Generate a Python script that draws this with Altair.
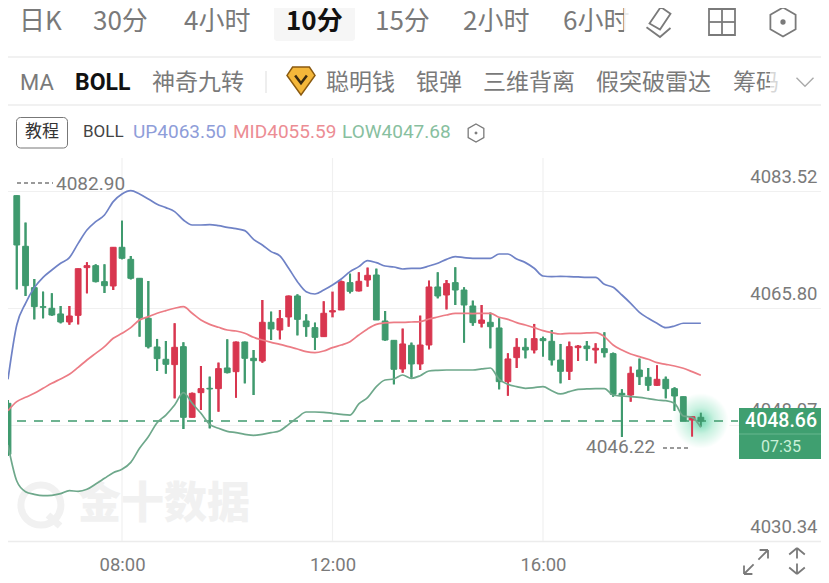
import altair as alt
import pandas as pd

opens = [4051.33,4082.89,4075.19,4068.91,4066.02,4065.77,4064.91,4063.69,4064.70,4071.95,
         4072.25,4069.82,4069.16,4075.04,4073.21,4070.33,4064.25,4059.89,4058.02,4057.21,
         4059.94,4049.20,4052.95,4053.61,4053.56,4056.70,4056.14,4060.65,4058.17,4057.76,
         4063.64,4062.47,4064.45,4067.64,4063.84,4062.83,4061.46,4065.21,4065.51,4069.67,
         4068.40,4070.07,4070.83,4063.84,4060.90,4056.55,4060.14,4057.31,4060.19,4069.01,
         4067.79,4069.67,4068.55,4066.12,4063.49,4063.64,4062.78,4054.62,4058.27,4059.84,
         4059.43,4061.16,4060.75,4057.91,4056.19,4059.79,4060.04,4059.43,4059.64,4058.88,
         4052.85,4052.59,4056.39,4055.28,4054.06,4054.98,4053.56,4052.34,4048.79,4049.20]
closes = [4043.58,4075.39,4069.21,4066.02,4065.92,4064.75,4063.69,4064.60,4071.79,4072.25,
          4069.82,4069.21,4075.04,4073.37,4070.33,4064.35,4059.94,4058.12,4057.26,4059.84,
          4049.20,4052.85,4053.56,4053.51,4056.60,4055.99,4060.65,4058.17,4057.81,4063.64,
          4062.63,4064.20,4067.64,4064.09,4062.98,4061.36,4065.01,4065.41,4069.82,4068.35,
          4069.87,4070.78,4063.99,4060.95,4056.50,4060.35,4057.31,4060.19,4069.01,4067.64,
          4069.52,4068.55,4066.27,4063.59,4063.99,4062.98,4054.62,4058.07,4059.84,4059.43,
          4061.16,4060.85,4057.91,4056.19,4059.94,4060.04,4059.64,4059.69,4059.03,4052.70,
          4052.59,4055.89,4055.38,4054.06,4054.98,4053.56,4052.44,4048.64,4049.30,4048.66]
highs = [4051.83,4082.90,4078.79,4070.22,4068.30,4068.05,4066.12,4066.12,4071.79,4072.76,
         4072.45,4072.45,4075.04,4079.09,4073.72,4070.33,4069.92,4061.11,4060.80,4063.49,
         4060.60,4052.95,4057.00,4055.38,4057.51,4061.05,4060.70,4060.70,4059.43,4067.03,
         4065.26,4065.51,4067.69,4067.89,4064.85,4063.59,4066.83,4068.30,4069.97,4071.03,
         4071.24,4071.95,4071.79,4065.36,4060.90,4062.68,4060.55,4064.65,4069.97,4071.24,
         4070.07,4072.00,4068.96,4066.93,4066.27,4065.11,4064.25,4058.93,4061.21,4061.21,
         4063.39,4061.46,4062.47,4060.35,4060.70,4060.19,4060.80,4060.45,4062.12,4059.03,
         4053.46,4056.90,4058.12,4056.70,4057.10,4055.38,4053.76,4052.34,4049.40,4049.91]
lows = [4043.37,4068.65,4067.64,4064.09,4064.25,4064.65,4063.49,4063.28,4063.33,4068.05,
        4069.72,4068.10,4068.55,4073.21,4070.17,4061.46,4059.69,4056.24,4055.84,4052.09,
        4047.43,4049.20,4050.31,4047.53,4050.06,4055.89,4052.19,4054.37,4052.59,4057.51,
        4060.95,4061.05,4062.98,4061.66,4061.46,4059.43,4061.46,4064.40,4065.51,4068.05,
        4068.35,4069.06,4063.99,4060.85,4054.22,4055.99,4055.23,4056.39,4059.53,4067.29,
        4065.61,4066.27,4060.55,4063.13,4062.88,4059.69,4053.46,4052.49,4056.70,4058.17,
        4058.93,4058.42,4057.10,4054.37,4054.87,4057.76,4057.81,4057.41,4058.32,4052.34,
        4046.22,4051.58,4054.11,4053.25,4053.96,4052.09,4050.16,4048.64,4046.26,4047.78]
boll_up = [4054.98,4063.23,4066.53,4068.91,4070.48,4071.59,4072.61,4073.47,4075.64,4077.67,
           4078.94,4079.95,4081.98,4083.14,4083.65,4083.14,4082.38,4081.57,4081.07,4080.46,
           4079.19,4078.43,4078.43,4078.48,4078.33,4078.08,4077.87,4077.57,4076.25,4075.39,
           4074.38,4073.72,4071.85,4069.82,4068.30,4067.94,4068.55,4069.31,4070.22,4071.34,
           4072.10,4073.01,4072.71,4072.20,4072.05,4071.74,4071.85,4071.85,4072.20,4072.61,
           4073.21,4073.62,4073.47,4073.37,4073.37,4073.37,4074.02,4074.02,4073.26,4072.71,
           4071.85,4070.68,4070.58,4070.63,4070.58,4070.53,4070.48,4070.48,4069.41,4068.96,
           4067.79,4066.53,4065.16,4064.25,4063.49,4062.83,4063.08,4063.50,4063.50,4063.50]
boll_mid = [4050.21,4051.58,4052.24,4052.85,4053.61,4054.37,4055.03,4055.74,4056.80,4057.91,
            4058.93,4059.94,4061.21,4061.97,4062.83,4063.99,4064.50,4065.01,4065.41,4065.77,
            4066.02,4065.01,4063.99,4063.33,4062.88,4062.47,4062.32,4061.97,4061.36,4060.95,
            4060.60,4060.29,4059.94,4059.59,4059.18,4059.03,4059.28,4059.79,4060.19,4060.70,
            4061.71,4062.63,4063.33,4063.54,4063.64,4063.64,4063.69,4063.74,4064.14,4064.45,
            4064.75,4065.01,4065.01,4064.96,4065.01,4065.01,4064.40,4064.09,4063.59,4063.23,
            4062.83,4062.37,4062.07,4061.86,4061.97,4061.97,4062.02,4062.07,4061.46,4060.19,
            4059.43,4058.83,4058.42,4058.02,4057.51,4057.26,4057.00,4056.65,4056.14,4055.59]
boll_low = [4045.00,4039.52,4037.90,4037.50,4037.30,4037.35,4037.60,4038.06,4037.95,4038.26,
            4039.07,4039.93,4040.79,4041.30,4042.36,4044.49,4046.26,4048.39,4049.55,4051.07,
            4052.95,4051.33,4049.81,4048.14,4047.53,4047.07,4046.87,4046.62,4046.46,4046.62,
            4046.87,4047.17,4048.14,4049.15,4050.01,4050.01,4049.96,4049.81,4049.66,4049.55,
            4051.23,4052.19,4053.86,4054.87,4055.03,4055.63,4055.13,4055.53,4056.24,4056.34,
            4056.39,4056.39,4056.39,4056.39,4056.55,4056.70,4054.98,4054.22,4053.86,4053.61,
            4053.71,4053.86,4053.25,4052.75,4053.10,4053.46,4053.51,4053.56,4053.56,4052.59,
            4052.44,4052.34,4052.24,4052.04,4051.83,4051.73,4051.33,4049.40,4049.20,4047.68]

price_ticks = [4083.52, 4065.80, 4048.07, 4030.34]
time_bars = [13, 37, 61]
time_labels = ["08:00", "12:00", "16:00"]
last_price = 4048.66
countdown = "07:35"
period_tabs = ["日K", "30分", "4小时", "10分", "15分", "2小时", "6小时"]
indicator_tabs = ["MA", "BOLL", "神奇九转", "聪明钱", "银弹", "三维背离", "假突破雷达", "筹码"]

GREEN, RED = "#3f9a6e", "#d8364f"
UP_C, MID_C, LOW_C = "#6f82c6", "#ec7c85", "#6ea88b"
GREY = "#7a7a7a"
CJK = "Noto Sans CJK SC"
NUM = "Roboto"

n = len(opens)
df = pd.DataFrame({"bar": list(range(n)), "open": opens, "close": closes, "high": highs, "low": lows,
                   "dir": ["up" if c >= o else "down" for o, c in zip(opens, closes)]})
bands = pd.DataFrame({"bar": list(range(n)), "up": boll_up, "mid": boll_mid, "low": boll_low})

PLOT_W, PLOT_H = 821, 575
x_scale = alt.Scale(domain=[-0.912, 92.70], nice=False, zero=False, padding=0)
y_scale = alt.Scale(domain=[4025.24, 4112.62], nice=False, zero=False)
dir_color = alt.Color("dir:N", scale=alt.Scale(domain=["up", "down"], range=[RED, GREEN]), legend=None)
dir_stroke = alt.Stroke("dir:N", scale=alt.Scale(domain=["up", "down"], range=[RED, GREEN]), legend=None)

label_expr = " : ".join(f"datum.value == {b} ? '{t}'" for b, t in zip(time_bars, time_labels)) + " : ''"

X = alt.X("bar:Q", scale=x_scale, title=None,
          axis=alt.Axis(values=time_bars, labelExpr=label_expr, grid=False, ticks=False,
                        domain=True, domainColor="#ececec", domainWidth=1.5, offset=-34,
                        labelPadding=14, labelFontSize=18.5, labelColor=GREY, labelFont=NUM))
Y = alt.Y("low:Q", scale=y_scale, title=None,
          axis=alt.Axis(orient="right", values=price_ticks, format=".2f", grid=True, gridColor="#f0f0f0",
                        gridWidth=1.2, ticks=False, domain=False, labelAlign="right", labelPadding=-4,
                        labelOffset=-15, labelFontSize=18.5, labelColor=GREY, labelFont=NUM))

wicks = alt.Chart(df).mark_rule(strokeWidth=2).encode(x=X, y=Y, y2="high:Q", color=dir_color)
wicks_top = alt.Chart(df).mark_rule(strokeWidth=2).encode(
    x=alt.X("bar:Q", scale=x_scale), y=alt.Y("low:Q", scale=y_scale), y2="high:Q", color=dir_color)
bodies = alt.Chart(df).mark_bar(size=5.8, strokeWidth=1).encode(
    x=alt.X("bar:Q", scale=x_scale),
    y=alt.Y("open:Q", scale=y_scale), y2="close:Q", color=dir_color, stroke=dir_stroke)


def band(field, color):
    return alt.Chart(bands).mark_line(color=color, strokeWidth=1.7, interpolate="monotone").encode(
        x=alt.X("bar:Q", scale=x_scale), y=alt.Y(f"{field}:Q", scale=y_scale))


def label(text, x, y, size, color=GREY, weight=400, align="left", font=CJK, opacity=1.0):
    return alt.Chart(alt.Data(values=[{"t": text}])).mark_text(
        fontSize=size, color=color, fontWeight=weight, align=align, baseline="middle",
        font=font, opacity=opacity).encode(text="t:N", x=alt.value(x), y=alt.value(y))


def box(x, x2, y, y2, fill, stroke=None, radius=0, opacity=1.0, width=1):
    kw = {"stroke": stroke, "strokeWidth": width} if stroke else {}
    return alt.Chart(alt.Data(values=[{"a": 1}])).mark_rect(
        fill=fill, cornerRadius=radius, opacity=opacity, **kw).encode(
        x=alt.value(x), x2=alt.value(x2), y=alt.value(y), y2=alt.value(y2))


def hline(x, x2, y, color, dash=None, width=1):
    kw = {"strokeDash": dash} if dash else {}
    return alt.Chart(alt.Data(values=[{"a": 1}])).mark_rule(color=color, strokeWidth=width, **kw).encode(
        x=alt.value(x), x2=alt.value(x2), y=alt.value(y))


def icon(path, x, y, span, stroke=GREY, width=1.8, fill=None):
    kw = {"fill": fill, "fillOpacity": 1} if fill else {"fillOpacity": 0}
    return alt.Chart(alt.Data(values=[{"a": 1}])).mark_point(
        shape=path, size=span * span, stroke=stroke, strokeWidth=width, opacity=1, **kw).encode(
        x=alt.value(x), y=alt.value(y))


HEX = "M0,-1L0.87,-0.5L0.87,0.5L0,1L-0.87,0.5L-0.87,-0.5Z"
DOT = "M-0.12,0a0.12,0.12 0 1,0 0.24,0a0.12,0.12 0 1,0 -0.24,0Z"

time_rules = alt.Chart(pd.DataFrame({"bar": time_bars})).mark_rule(color="#f0f0f0", strokeWidth=1.2).encode(
    x=alt.X("bar:Q", scale=x_scale), y=alt.value(158), y2=alt.value(541))

watermark = [
    icon("M0,-1A1,1 0 1,1 -0.01,-1ZM0.35,0.5L0.95,1.05", 41, 505, 40, stroke="#f1f1f1", width=7),
    label("金十数据", 78, 505, 43, color="#f1f1f1", weight=900),
]

glow = alt.Chart(pd.DataFrame({"bar": [79], "p": [last_price]})).mark_point(
    filled=True, size=3400, opacity=1,
    fill=alt.Gradient(gradient="radial", stops=[
        alt.GradientStop(color="#6fd8b0", offset=0.0),
        alt.GradientStop(color="#c8f1e0", offset=0.45),
        alt.GradientStop(color="#ffffff", offset=0.95)])).encode(
    x=alt.X("bar:Q", scale=x_scale), y=alt.Y("p:Q", scale=y_scale))

price_line = alt.Chart(pd.DataFrame({"p": [last_price]})).mark_rule(
    color="#3f9a6e", strokeWidth=1.5, strokeDash=[9, 8]).encode(
    y=alt.Y("p:Q", scale=y_scale), x=alt.value(0), x2=alt.value(738))

TAB_Y = 22
tab_x = [19, 93, 184, 286, 375, 463, 563]
tab_w = [400, 400, 400, 700, 400, 400, 400]
tabs = [label(t, x, TAB_Y, 26, color="#111111" if w == 700 else GREY, weight=w)
        for t, x, w in zip(period_tabs, tab_x, tab_w)]
ind_x = [20, 75, 152, 326, 416, 483, 596, 733]
ind_w = [400, 700, 400, 400, 400, 400, 400, 400]
inds = [label(t, x, 83, 23 if i != 0 else 22, color="#111111" if w == 700 else GREY, weight=w,
              font=CJK if i > 1 else NUM)
        for i, (t, x, w) in enumerate(zip(indicator_tabs, ind_x, ind_w))]

chrome = [
    box(274, 355, 0, 41, "#f6f6f6", radius=3),
    *tabs,
    box(624, 636, 0, 41, "#ffffff", opacity=0.85),
    icon("M-0.7,0.1L0.05,-1L0.7,-0.55L0,0.5ZM-0.9,0.35L0,1L0.7,0.4", 660, TAB_Y, 30),
    box(709, 735, 9, 35, "#ffffff", stroke=GREY, width=1.8),
    hline(709, 735, TAB_Y, GREY, width=1.8),
    alt.Chart(alt.Data(values=[{"a": 1}])).mark_rule(color=GREY, strokeWidth=1.8).encode(
        x=alt.value(722), y=alt.value(9), y2=alt.value(35)),
    icon(HEX, 783, TAB_Y, 29),
    icon(DOT, 783, TAB_Y, 29, fill=GREY),
    hline(0, 829, 57, "#ececec", width=1.5),
    hline(0, 829, 105, "#ececec", width=1.5),
    *inds,
    alt.Chart(alt.Data(values=[{"a": 1}])).mark_rule(color="#dddddd", strokeWidth=1).encode(
        x=alt.value(266), y=alt.value(71), y2=alt.value(93)),
    icon("M-0.6,-1L0.6,-1L1,-0.4L0,1L-1,-0.4Z", 301, 81, 28, stroke="#8a5a10", width=1.5, fill="#f4b73a"),
    icon("M-0.45,-0.35L0,0.25L0.45,-0.35", 301, 80, 26, stroke="#3a2a10", width=2.5),
    box(770, 795, 68, 96, "#ffffff", opacity=0.7),
    icon("M-1,-0.5L0,0.5L1,-0.5", 805, 82, 17, stroke="#aaaaaa", width=1.4),
    box(16.5, 67.5, 117.5, 148, "#ffffff", stroke="#777777", radius=4, width=1),
    label("教程", 42, 132, 17, color="#333333", align="center"),
    label("BOLL", 83, 132, 17, color="#444444", font=NUM),
    label("UP4063.50", 133, 132, 19, color="#8e9dd9", font=NUM),
    label("MID4055.59", 233, 132, 19, color="#ec8d94", font=NUM),
    label("LOW4047.68", 342, 132, 19, color="#88bfa0", font=NUM),
    icon(HEX, 476, 133, 18, width=1.3),
    icon(DOT, 476, 133, 18, fill=GREY, width=1),
]

annotations = [
    hline(17, 53, 183, GREY, dash=[4, 3], width=1.5),
    label("4082.90", 56, 184, 19, font=NUM),
    label("4046.22", 586, 447, 19, font=NUM),
    hline(663, 691, 448, GREY, dash=[4, 3], width=1.5),
]

price_box = [
    box(739, 827, 408, 459, "#3f9f70"),
    hline(739, 827, 434, "#69b78f", width=1),
    label(f"{last_price:.2f}", 781, 421, 19.5, color="#ffffff", weight=500, align="center", font=NUM),
    label(countdown, 781, 447, 16, color="#c9f0d8", align="center", font=NUM),
]

bottom_icons = [
    icon("M-1,1L-0.2,0.2M-1,1L-1,0.3M-1,1L-0.3,1M1,-1L0.2,-0.2M1,-1L1,-0.3M1,-1L0.3,-1", 756, 562, 24, width=1.8),
    icon("M0,-1L0,-0.2M0,-1L-0.6,-0.5M0,-1L0.6,-0.5M0,1L0,0.2M0,1L-0.6,0.5M0,1L0.6,0.5", 797, 561, 26, width=1.8),
]

chart = alt.layer(
    wicks,
    *watermark,
    time_rules,
    glow,
    price_line,
    wicks_top,
    bodies,
    band("up", UP_C),
    band("mid", MID_C),
    band("low", LOW_C),
    *annotations,
    *price_box,
    *chrome,
    *bottom_icons,
).resolve_scale(color="shared").properties(
    width=PLOT_W, height=PLOT_H,
    padding={"left": -8, "top": -8, "right": 0, "bottom": 0},
    autosize=alt.AutoSizeParams(type="none"),
).configure_view(stroke=None)

chart.save("out.html", embed_options={"renderer": "svg", "actions": False})
